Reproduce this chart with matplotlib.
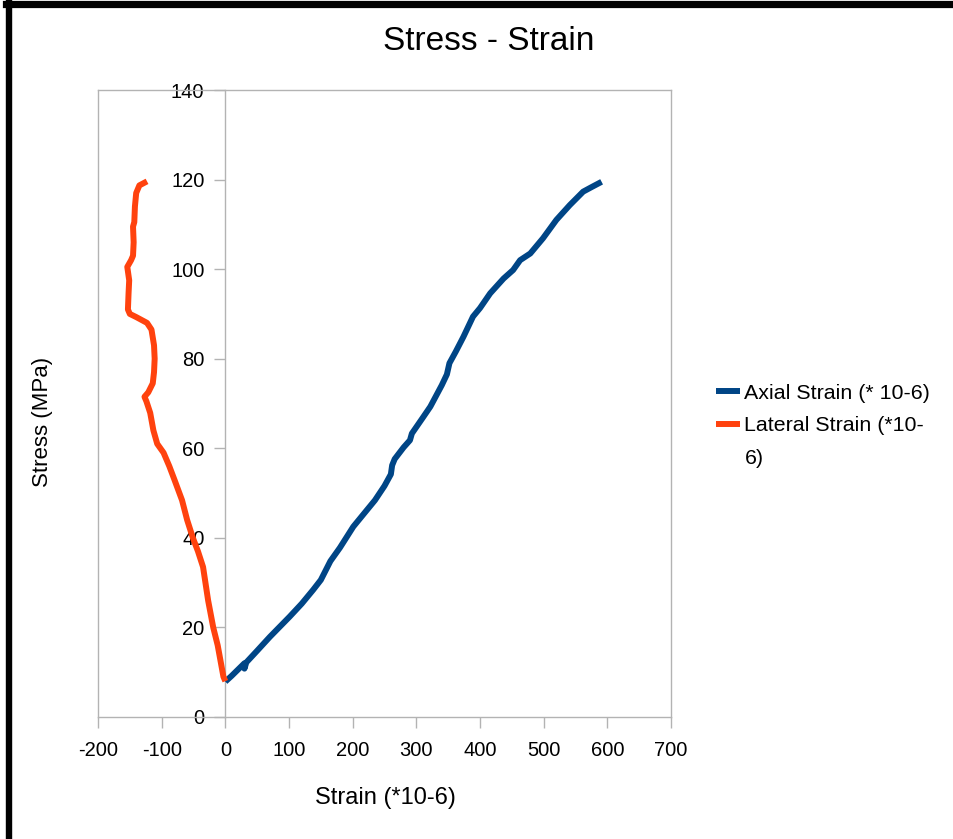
import matplotlib.pyplot as plt
from matplotlib.lines import Line2D

plt.rcParams["font.family"] = ["Liberation Sans", "DejaVu Sans"]
plt.rcParams["axes.unicode_minus"] = False

# axial strain (*10-6) vs stress (MPa)
axial_strain = [0, 10, 20, 30, 30, 33, 50, 70, 101, 120, 138, 150, 160, 165,
                180, 201, 220, 235, 250, 260, 262, 266, 280, 290, 293, 310,
                322, 340, 348, 352, 362, 374, 389, 400, 416, 437, 452, 463,
                479, 499, 520, 541, 562, 575, 591]
axial_stress = [7.9, 9.2, 10.6, 12.0, 10.8, 12.2, 14.8, 17.9, 22.4, 25.3, 28.4,
                30.6, 33.4, 34.8, 37.8, 42.5, 45.8, 48.4, 51.6, 54.2, 56.2,
                57.6, 60.2, 61.8, 63.3, 66.8, 69.3, 74.1, 76.5, 79.0, 81.6,
                84.9, 89.4, 91.3, 94.6, 97.9, 99.8, 102.0, 103.5, 106.9, 111.0,
                114.3, 117.3, 118.3, 119.5]

# lateral strain (*10-6) vs stress (MPa)
lateral_strain = [0, -3, -12, -19, -27, -35, -43, -51, -60, -68, -80, -88, -97,
                  -107, -113, -118, -124, -127, -121, -114, -112, -111, -112,
                  -116, -123, -140, -150, -153, -152, -151, -154, -148, -145,
                  -144, -145, -143, -142, -140, -135, -123]
lateral_stress = [8, 9, 16, 20, 26, 33.5, 37, 40, 44, 48.4, 53, 56, 59, 61, 64,
                  67.9, 70.5, 71.5, 72.5, 74.5, 77, 80, 83, 86.5, 88, 89.3, 90,
                  91, 94.6, 97.5, 100.5, 102, 103, 106, 109.5, 110.5, 114, 117,
                  118.7, 119.6]

x_ticks = [-200, -100, 0, 100, 200, 300, 400, 500, 600, 700]
y_ticks = [0, 20, 40, 60, 80, 100, 120, 140]

grey = "#b3b3b3"

fig = plt.figure(figsize=(9.54, 8.39), dpi=100)
ax = fig.add_axes([98 / 954, 1 - 717 / 839, (671 - 98) / 954, (717 - 90) / 839])

axial_line, = ax.plot(axial_strain, axial_stress, color="#004586", lw=4.3,
                      solid_capstyle="butt", solid_joinstyle="round", zorder=3)
lateral_line, = ax.plot(lateral_strain, lateral_stress, color="#ff420e", lw=4.3,
                        solid_capstyle="butt", solid_joinstyle="round", zorder=3)

ax.set_xlim(-200, 700)
ax.set_ylim(0, 140)
ax.set_xticks(x_ticks)
ax.set_yticks(y_ticks)

for s in ax.spines.values():
    s.set_color(grey)
    s.set_linewidth(1)
ax.spines["left"].set_position(("data", 0))
ax.axvline(-200, color=grey, lw=1, clip_on=False)

ax.tick_params(axis="both", colors=grey, labelcolor="black", labelsize=14.5,
               length=8, width=1, direction="out")
ax.tick_params(axis="x", pad=9)
ax.tick_params(axis="y", pad=7)

fig.text(489 / 954, 1 - 42 / 839, "Stress - Strain", fontsize=24,
         ha="center", va="center")
fig.text(385 / 954, 1 - 798 / 839, "Strain (*10-6)", fontsize=17,
         ha="center", va="center")
fig.text(43 / 954, 1 - 422 / 839, "Stress (MPa)", fontsize=16,
         ha="center", va="center", rotation=90)

# the lateral label wraps onto a second line, handle stays on the first line
wrap = Line2D([], [], color="none")
fig.legend(handles=[axial_line, lateral_line, wrap],
           labels=["Axial Strain (* 10-6)", "Lateral Strain (*10-", "6)"],
           loc="upper left", bbox_to_anchor=(707 / 954, 1 - 375 / 839),
           frameon=False, fontsize=15.4, handlelength=1.15,
           handletextpad=0.2, labelspacing=0.64, borderaxespad=0)

# black frame on top and left edges
fig.add_artist(Line2D([6 / 954, 1], [1 - 3.5 / 839, 1 - 3.5 / 839],
                      color="black", lw=5.2, transform=fig.transFigure))
fig.add_artist(Line2D([9 / 954, 9 / 954], [0, 1], color="black",
                      lw=4.6, transform=fig.transFigure))

fig.savefig("out.png", dpi=100)
